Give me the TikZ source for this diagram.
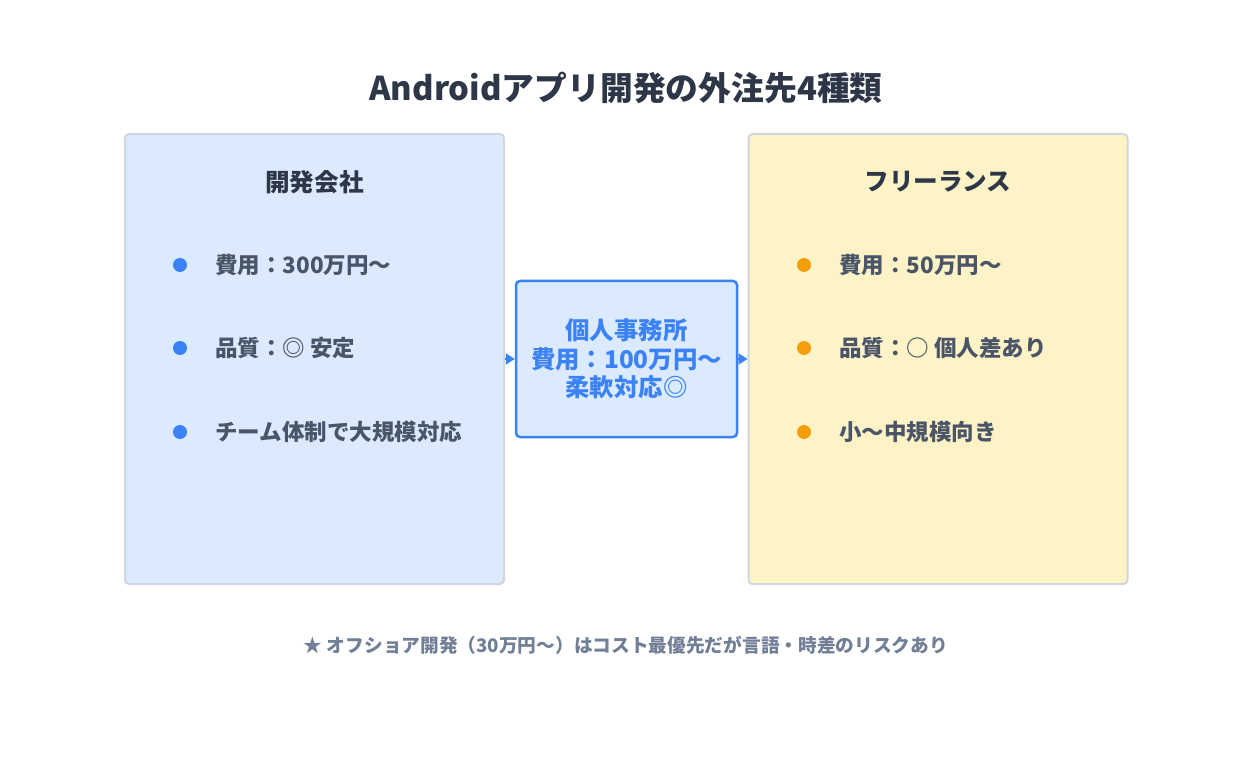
\documentclass[tikz,border=0pt]{standalone}
\usepackage{fontspec}
\setmainfont{Noto Sans CJK JP}
\usetikzlibrary{arrows.meta}
\definecolor{titlec}{HTML}{2D3748}
\definecolor{textc}{HTML}{4A5568}
\definecolor{notec}{HTML}{718096}
\definecolor{bluefill}{HTML}{DBEAFE}
\definecolor{yellowfill}{HTML}{FEF3C7}
\definecolor{edgec}{HTML}{CFD6DF}
\definecolor{blue}{HTML}{3B82F6}
\definecolor{orange}{HTML}{F59E0B}
\begin{document}
\begin{tikzpicture}[x=1pt,y=-1pt,
    panel/.style={rectangle, rounded corners=4pt, draw=edgec, line width=2pt, minimum width=379pt, minimum height=450pt},
    mid/.style={rectangle, rounded corners=4pt, draw=blue, fill=bluefill, line width=2.5pt, minimum width=221pt, minimum height=156pt, align=center, text=blue, font=\bfseries\fontsize{24.4}{28.5}\selectfont},
    head/.style={text=titlec, font=\bfseries\fontsize{24.6}{28}\selectfont},
    item/.style={anchor=west, inner sep=0pt, text=textc, font=\bfseries\fontsize{22.5}{26}\selectfont},
    bluedot/.style={circle, fill=blue, inner sep=0pt, minimum size=14pt},
    orangedot/.style={circle, fill=orange, inner sep=0pt, minimum size=14pt},
    arr/.style={blue, line width=2pt, -{Triangle[length=9pt,width=11pt]}}]

\useasboundingbox[fill=white] (0,0) rectangle (1252,783);
\node [text=titlec, font=\bfseries\fontsize{32.8}{38}\selectfont] (T) at (626,88){Androidアプリ開発の外注先4種類};
\node [panel, fill=bluefill] (L) at (314.5,359){};
\node [panel, fill=yellowfill] (R) at (938,359){};
\node [mid] (M) at (626.5,359){個人事務所\\費用：100万円〜\\柔軟対応◎};
\node [head] (Lh) at (314.5,182){開発会社};
\node [head] (Rh) at (938,182){フリーランス};
\node [bluedot] (L1) at (180,265){};
\node [bluedot] (L2) at (180,348){};
\node [bluedot] (L3) at (180,432){};
\node [item] (Lt1) at (215,265){費用：300万円〜};
\node [item] (Lt2) at (215,348){品質：◎ 安定};
\node [item] (Lt3) at (215,432){チーム体制で大規模対応};
\node [orangedot] (R1) at (804,265){};
\node [orangedot] (R2) at (804,348){};
\node [orangedot] (R3) at (804,432){};
\node [item] (Rt1) at (839,265){費用：50万円〜};
\node [item] (Rt2) at (839,348){品質：○ 個人差あり};
\node [item] (Rt3) at (839,432){小〜中規模向き};
\draw [arr] (L.east) -- (M.west);
\draw [arr] (M.east) -- (R.west);
\node [text=notec, font=\bfseries\fontsize{18.7}{22}\selectfont] (N) at (626,645){★ オフショア開発（30万円〜）はコスト最優先だが言語・時差のリスクあり};
\end{tikzpicture}
\end{document}
